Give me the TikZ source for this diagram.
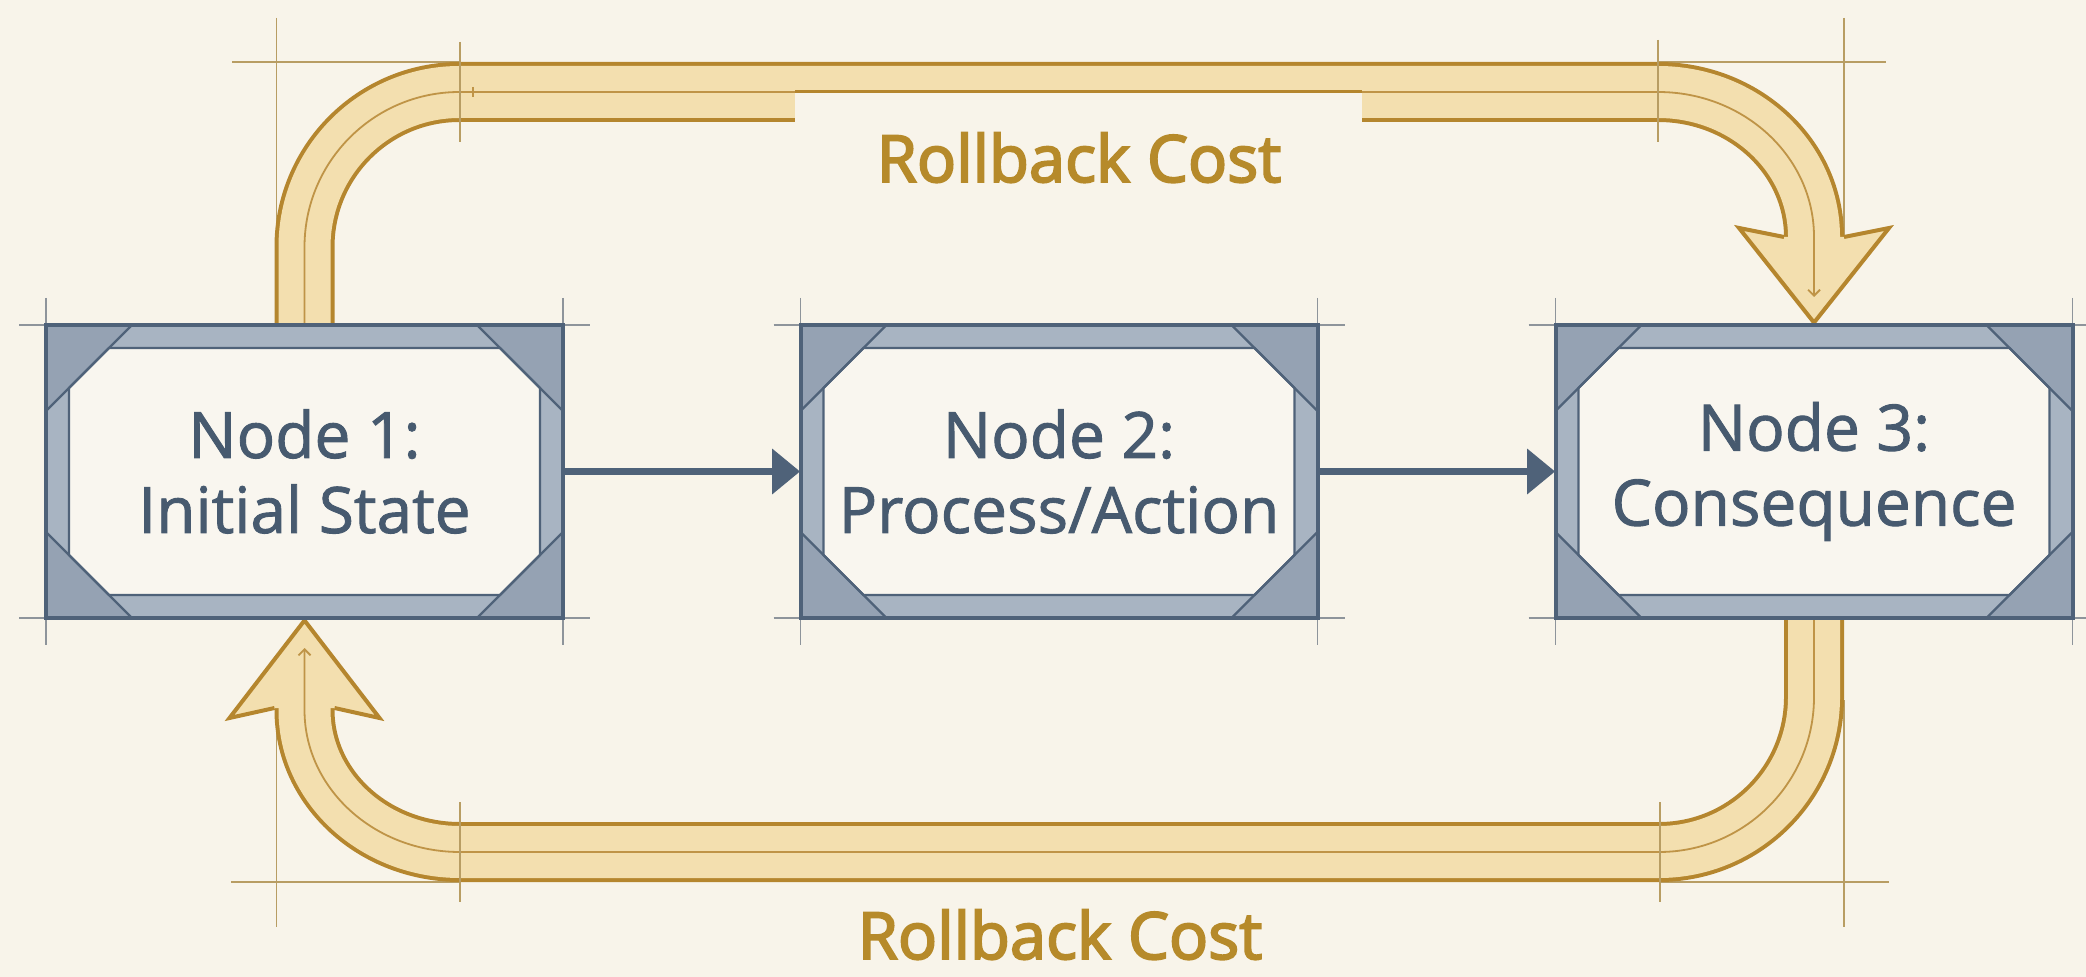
\documentclass[tikz,border=0pt]{standalone}
\usepackage{fontspec}
\setmainfont{Open Sans}
\newfontfamily\panelfont{Open Sans}[FakeBold=1.4]
\newfontfamily\costfont{Open Sans}[FakeBold=3]
\usetikzlibrary{arrows.meta,calc}
\pgfdeclarelayer{background}
\pgfsetlayers{background,main}

\definecolor{paper}{HTML}{F8F4EA}
\definecolor{cropgray}{HTML}{8E949B}
\definecolor{guidegold}{HTML}{B89D63}
\definecolor{goldedge}{HTML}{B5862E}
\definecolor{goldfill}{HTML}{F3DFAF}
\definecolor{goldmid}{HTML}{BF9447}
\definecolor{goldtext}{HTML}{B68A2A}
\definecolor{slate}{HTML}{4F6279}
\definecolor{slatetext}{HTML}{475A6F}
\definecolor{bandgray}{HTML}{A8B4C2}
\definecolor{cornergray}{HTML}{95A2B3}
\definecolor{panel}{HTML}{F9F6EF}

\tikzset{
  cropline/.style={draw=cropgray, line width=0.75pt},
  guideline/.style={draw=guidegold, line width=0.7pt},
  bandedge/.style={draw=goldedge, line width=30pt, line cap=butt},
  bandfill/.style={draw=goldfill, line width=26pt, line cap=butt},
  bandmid/.style={draw=goldmid, line width=0.9pt},
  headfill/.style={fill=goldfill},
  headedge/.style={draw=goldedge, line width=2pt, line join=miter},
  flowarrow/.style={draw=slate, line width=3.5pt, -{Triangle[length=14pt,width=22pt]}},
  nodebox/.style={rectangle, minimum width=258.5pt, minimum height=146.5pt,
    inner sep=0pt, align=center, text=slatetext,
    font=\panelfont\fontsize{32pt}{37.5pt}\selectfont},
  costlabel/.style={text=goldtext, anchor=base, inner sep=0pt,
    font=\costfont\fontsize{32.5pt}{38pt}\selectfont},
}

% framed panel: outer band, darker corner wedges, chamfered inner panel
\newcommand\nodeframe[1]{%
  \begin{scope}[shift={(#1.center)}]
    \fill[bandgray] (-258.5,-146.5) rectangle (258.5,146.5);
    \fill[cornergray] (-258.5,-146.5) -- (-172.5,-146.5) -- (-258.5,-60.5) -- cycle;
    \fill[cornergray] (258.5,-146.5) -- (172.5,-146.5) -- (258.5,-60.5) -- cycle;
    \fill[cornergray] (-258.5,146.5) -- (-172.5,146.5) -- (-258.5,60.5) -- cycle;
    \fill[cornergray] (258.5,146.5) -- (172.5,146.5) -- (258.5,60.5) -- cycle;
    \filldraw[fill=panel, draw=slate, line width=1.2pt]
      (-195.5,-123.5) -- (195.5,-123.5) -- (235.5,-83.5) -- (235.5,83.5)
      -- (195.5,123.5) -- (-195.5,123.5) -- (-235.5,83.5) -- (-235.5,-83.5) -- cycle;
    \draw[slate, line width=1.2pt]
      (-172.5,-146.5) -- (-258.5,-60.5) (172.5,-146.5) -- (258.5,-60.5)
      (-172.5,146.5) -- (-258.5,60.5) (172.5,146.5) -- (258.5,60.5);
    \draw[slate, line width=2pt] (-258.5,-146.5) rectangle (258.5,146.5);
  \end{scope}}

% registration lines running along the panel edges
\newcommand\cropmarks[1]{%
  \begin{scope}[shift={(#1.center)}]
    \draw[cropline] (-285.5,-146.5) -- (285.5,-146.5) (-285.5,146.5) -- (285.5,146.5)
      (-258.5,-173.5) -- (-258.5,173.5) (258.5,-173.5) -- (258.5,173.5);
  \end{scope}}

\begin{document}
\begin{tikzpicture}[x=0.5pt,y=-0.5pt]
  \useasboundingbox (0,0) rectangle (2086,977);

  \node[nodebox] (n1) at (304.5,471.5) {Node 1:\\Initial State};
  \node[nodebox] (n2) at (1059,471.5) {Node 2:\\Process/Action};
  \node[nodebox] (n3) at (1814,471.5) {Node 3:\\Consequence};

  \node[costlabel] (costtop) at (1079,182) {Rollback Cost};
  \node[costlabel] (costbottom) at (1060,959) {Rollback Cost};

  \coordinate (topend) at (1814,244);
  \coordinate (botend) at (304.5,703);

  \begin{pgfonlayer}{background}
    \fill[paper] (0,0) rectangle (2086,977);

    \cropmarks{n1}
    \cropmarks{n2}
    \cropmarks{n3}

    % construction lines behind the return bands
    \draw[guideline] (232,62) -- (460,62) (276.5,18) -- (276.5,250);
    \draw[guideline] (1658,62) -- (1886,62) (1844,18) -- (1844,237);
    \draw[guideline] (1660,882) -- (1889,882) (1844,700) -- (1844,927);
    \draw[guideline] (231,882) -- (460,882) (276.5,712) -- (276.5,927);

    % upper band: Node 1 -> Node 3
    \draw[bandedge] (n1.north) -- (304.5,247)
      .. controls (304.5,161.4) and (373.9,92) .. (459.5,92) -- (1658,92)
      .. controls (1744.2,92) and (1814,156.9) .. (1814,237) -- (topend);
    \draw[bandfill] (n1.north) -- (304.5,247)
      .. controls (304.5,161.4) and (373.9,92) .. (459.5,92) -- (1658,92)
      .. controls (1744.2,92) and (1814,156.9) .. (1814,237) -- (topend);
    \fill[paper] (795,92) rectangle (1362,125);

    % lower band: Node 3 -> Node 1
    \draw[bandedge] (n3.south) -- (1814,697)
      .. controls (1814,782.6) and (1744.6,852) .. (1659,852) -- (460,852)
      .. controls (374.1,852) and (304.5,788.4) .. (304.5,710) -- (botend);
    \draw[bandfill] (n3.south) -- (1814,697)
      .. controls (1814,782.6) and (1744.6,852) .. (1659,852) -- (460,852)
      .. controls (374.1,852) and (304.5,788.4) .. (304.5,710) -- (botend);

    % arrow heads
    \fill[headfill] (1784,237) -- (1739,228) -- ($(n3.north)+(0,-2)$) -- (1889,228) -- (1844,237) -- cycle;
    \draw[headedge] (1784,237) -- (1739,228) -- ($(n3.north)+(0,-2)$) -- (1889,228) -- (1844,237);
    \fill[headfill] (274.5,708) -- (229.5,718) -- ($(n1.south)+(0,2)$) -- (379.5,718) -- (334.5,708) -- cycle;
    \draw[headedge] (274.5,708) -- (229.5,718) -- ($(n1.south)+(0,2)$) -- (379.5,718) -- (334.5,708);

    % centre threads
    \draw[bandmid, -{Straight Barb[length=3pt,width=6pt]}] (n1.north) -- (304.5,247)
      .. controls (304.5,161.4) and (373.9,92) .. (459.5,92) -- (1658,92)
      .. controls (1744.2,92) and (1814,156.9) .. (1814,237) -- (1814,297);
    \draw[bandmid, -{Straight Barb[length=3pt,width=6pt]}] (n3.south) -- (1814,697)
      .. controls (1814,782.6) and (1744.6,852) .. (1659,852) -- (460,852)
      .. controls (374.1,852) and (304.5,788.4) .. (304.5,710) -- (304.5,648);
    \draw[goldedge, line width=1.75pt] (795,91.5) -- (1362,91.5);
    \draw[bandmid] (473,87) -- (473,97);

    % ticks across the bands
    \draw[guideline] (460,42) -- (460,142) (1658,40) -- (1658,142)
      (1660,802) -- (1660,902) (460,802) -- (460,902);

    \nodeframe{n1}
    \nodeframe{n2}
    \nodeframe{n3}
  \end{pgfonlayer}

  \draw[flowarrow] (n1.east) -- (n2.west);
  \draw[flowarrow] (n2.east) -- (n3.west);
\end{tikzpicture}
\end{document}
